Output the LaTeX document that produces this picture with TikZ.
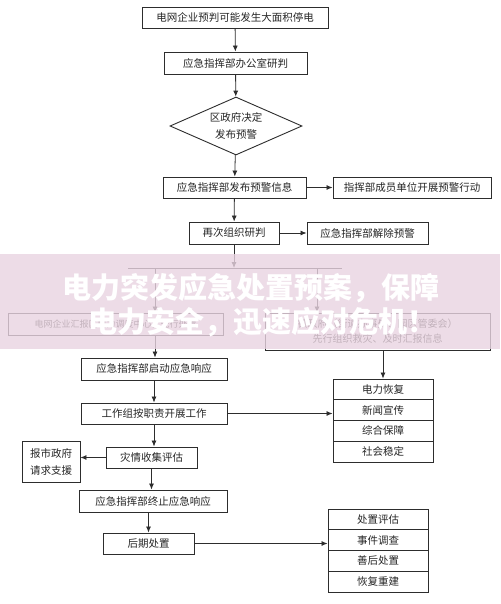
\documentclass[tikz,border=0pt]{standalone}
\usepackage{fontspec}
\setmainfont{Noto Sans CJK SC}
\usetikzlibrary{arrows.meta,shapes.geometric}
\definecolor{ln}{RGB}{45,45,45}
\definecolor{bandpink}{RGB}{233,212,225}
\begin{document}
\begin{tikzpicture}[x=1pt,y=-1pt,
  box/.style={draw=ln, line width=0.9pt, inner sep=0pt, font=\fontsize{10.5}{12}\selectfont, text=black!85},
  cell/.style={box, minimum width=100pt, minimum height=20.75pt},
  arr/.style={draw=ln, line width=0.8pt, -{Latex[length=6pt,width=5pt]}},
  plain/.style={draw=ln, line width=0.8pt},
  banner/.style={font=\fontsize{29}{32}\selectfont\bfseries, text=white}]
\useasboundingbox (0,0) rectangle (500,604);
\fill[white] (0,0) rectangle (500,604);
% main column
\node[box, minimum width=186pt, minimum height=21pt] (b1) at (235,17.5) {电网企业预判可能发生大面积停电};
\node[box, minimum width=143pt, minimum height=22pt] (b2) at (235.5,63) {应急指挥部办公室研判};
\node[box, diamond, aspect=2.28, minimum width=132pt, minimum height=58pt, align=center, font=\fontsize{10.5}{17}\selectfont] (d) at (236,126) {区政府决定\\发布预警};
\node[box, minimum width=143pt, minimum height=21pt] (b4) at (234.5,187.5) {应急指挥部发布预警信息};
\node[box, minimum width=158pt, minimum height=21pt] (b5) at (412,187.5) {指挥部成员单位开展预警行动};
\node[box, minimum width=90pt, minimum height=22pt] (b6) at (234,233) {再次组织研判};
\node[box, minimum width=121pt, minimum height=22pt] (b7) at (367.5,233.5) {应急指挥部解除预警};
\coordinate (j) at (236,268);
\coordinate (hl) at (128,268);
\coordinate (hr) at (342,268);
\coordinate (jl) at (155,268);
\coordinate (jr) at (317,268);
\node[box, minimum width=215pt, minimum height=22pt, font=\fontsize{9}{11}\selectfont] (L) at (115.5,324) {电网企业汇报区电力调度中心，先行处置};
\node[box, minimum width=225pt, minimum height=37pt, align=center, font=\fontsize{10}{15}\selectfont] (R) at (377.5,331.5) {镇政府（街道办事处、园区管委会）\\先行组织救灾、及时汇报信息};
\node[box, minimum width=146pt, minimum height=22pt] (b8) at (154,369) {应急指挥部启动应急响应};
\node[box, minimum width=146pt, minimum height=21pt] (b9) at (154,413.5) {工作组按职责开展工作};
\node[cell] (s1a) at (383,389.4) {电力恢复};
\node[cell] (s1b) at (383,410.1) {新闻宣传};
\node[cell] (s1c) at (383,430.9) {综合保障};
\node[cell] (s1d) at (383,451.6) {社会稳定};
\node[box, minimum width=91pt, minimum height=21pt] (b10) at (151.5,457.5) {灾情收集评估};
\node[box, minimum width=58pt, minimum height=41pt, align=center, font=\fontsize{10.5}{17}\selectfont] (b11) at (51,461.5) {报市政府\\请求支援};
\node[box, minimum width=148pt, minimum height=22pt] (b12) at (153,501) {应急指挥部终止应急响应};
\node[box, minimum width=91pt, minimum height=21pt] (b13) at (148.5,543.5) {后期处置};
\node[cell] (s2a) at (378,519.4) {处置评估};
\node[cell] (s2b) at (378,540.1) {事件调查};
\node[cell] (s2c) at (378,560.9) {善后处置};
\node[cell] (s2d) at (378,581.6) {恢复重建};
% connectors
\draw[arr] (b1) -- (b2);
\draw[arr] (b2) -- (d);
\draw[arr] (d) -- (b4);
\draw[arr] (b4.east) -- (b5.west);
\draw[arr] (b4) -- (b6);
\draw[arr] (b6.east) -- (b6.east -| b7.west);
\draw[arr] (b6.south) -- (b6.south |- j);
\draw[plain] (hl) -- (hr);
\draw[arr] (jl) -- (jl |- L.north);
\draw[arr] (jr) -- (jr |- R.north);
\draw[arr] (jl |- L.south) -- (jl |- b8.north);
\draw[arr] (R.south -| s1a) -- (s1a.north);
\draw[arr] (b8) -- (b9);
\draw[arr] (b9.east) -- (b9.east -| s1a.west);
\draw[arr] (b9.south) -- (b9.south |- b10.north);
\draw[arr] (b10.west) -- (b10.west -| b11.east);
\draw[arr] (b10.south) -- (b10.south |- b12.north);
\draw[arr] (b13.north |- b12.south) -- (b13.north);
\draw[arr] (b13.east) -- (b13.east -| s2a.west);
% banner
\fill[bandpink, opacity=0.8] (0,254) rectangle (500,349);
\node[banner] (t1) at (251,288) {电力突发应急处置预案，保障};
\node[banner] (t2) at (262,322) {电力安全，迅速应对危机！};
\end{tikzpicture}
\end{document}
